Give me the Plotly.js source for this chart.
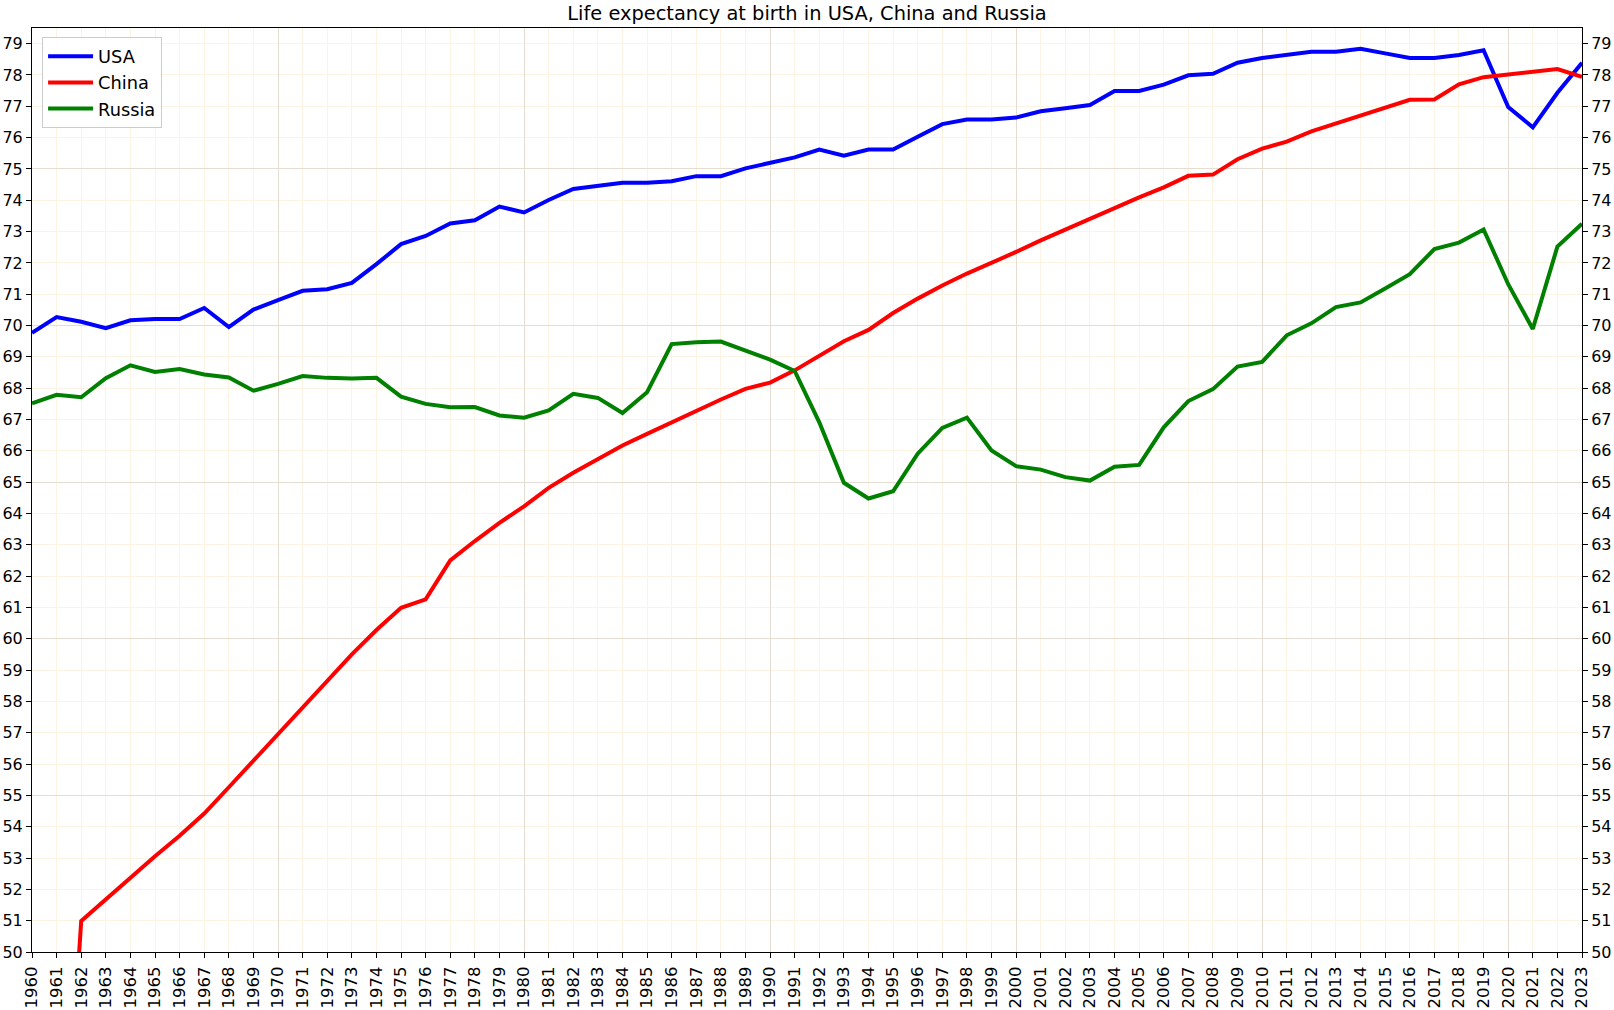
<!DOCTYPE html>
<html>
<head>
<meta charset="utf-8">
<script src="https://cdn.plot.ly/plotly-3.0.1.min.js"></script>
<style>
  body { margin: 0; background: #fff; }
  #chart { width: 1614px; height: 1010px; }
</style>
</head>
<body>
<div id="chart"></div>
<script>
    // values (years 1960..2023)
    const years = [
        1960, 1961, 1962, 1963, 1964, 1965, 1966, 1967, 1968, 1969,
        1970, 1971, 1972, 1973, 1974, 1975, 1976, 1977, 1978, 1979,
        1980, 1981, 1982, 1983, 1984, 1985, 1986, 1987, 1988, 1989,
        1990, 1991, 1992, 1993, 1994, 1995, 1996, 1997, 1998, 1999,
        2000, 2001, 2002, 2003, 2004, 2005, 2006, 2007, 2008, 2009,
        2010, 2011, 2012, 2013, 2014, 2015, 2016, 2017, 2018, 2019,
        2020, 2021, 2022, 2023
    ]
    const usa = [
        69.77, 70.27, 70.12, 69.92, 70.17, 70.21, 70.21, 70.56, 69.95, 70.51,
        70.81, 71.11, 71.16, 71.36, 71.96, 72.60, 72.86, 73.26, 73.36, 73.80,
        73.61, 74.01, 74.36, 74.46, 74.56, 74.56, 74.61, 74.77, 74.77, 75.02,
        75.21, 75.37, 75.62, 75.42, 75.62, 75.62, 76.03, 76.43, 76.58, 76.58,
        76.64, 76.84, 76.94, 77.04, 77.49, 77.49, 77.69, 77.99, 78.04, 78.39,
        78.54, 78.64, 78.74, 78.74, 78.84, 78.69, 78.54, 78.54, 78.64, 78.79,
        76.98, 76.33, 77.43, 78.39
    ]
    const china = [
        33.30, 39.00, 50.99, 51.69, 52.40, 53.06, 53.71, 54.42, 55.26, 56.11,
        56.96, 57.82, 58.63, 59.50, 60.28, 60.99, 61.26, 62.50, 63.12, 63.70,
        64.23, 64.82, 65.30, 65.74, 66.17, 66.54, 66.91, 67.28, 67.64, 67.98,
        68.18, 68.57, 69.02, 69.50, 69.86, 70.40, 70.86, 71.28, 71.66, 72.00,
        72.35, 72.72, 73.07, 73.40, 73.75, 74.09, 74.41, 74.78, 74.82, 75.31,
        75.65, 75.87, 76.20, 76.45, 76.71, 76.96, 77.21, 77.22, 77.70, 77.93,
        78.01, 78.12, 78.19, 77.94
    ]
    const russia = [
        67.52, 67.79, 67.71, 68.32, 68.73, 68.52, 68.61, 68.44, 68.34, 67.92,
        68.14, 68.39, 68.33, 68.31, 68.33, 67.73, 67.50, 67.39, 67.40, 67.13,
        67.06, 67.29, 67.82, 67.69, 67.21, 67.87, 69.41, 69.47, 69.49, 69.20,
        68.91, 68.55, 66.91, 64.98, 64.48, 64.71, 65.91, 66.73, 67.06, 66.01,
        65.51, 65.40, 65.16, 65.05, 65.49, 65.55, 66.75, 67.59, 67.97, 68.69,
        68.84, 69.69, 70.07, 70.59, 70.74, 71.18, 71.64, 72.44, 72.65, 73.07,
        71.32, 69.89, 72.52, 73.25
    ]
    const yTicks = [
        50, 51, 52, 53, 54, 55, 56, 57, 58, 59, 60, 61, 62, 63, 64,
        65, 66, 67, 68, 69, 70, 71, 72, 73, 74, 75, 76, 77, 78, 79
    ]
    const decadeTicks = [1960, 1970, 1980, 1990, 2000, 2010, 2020]
    const fiveTicks = [50, 55, 60, 65, 70, 75]

    const font = 'DejaVu Sans, sans-serif'
    const minorGrid = '#fdf3e2'
    const majorGrid = '#e5ddd2'
    const yRange = [50, 79.5]
    const xRange = [1960, 2023]

    const series = [
        {name: 'USA', values: usa, color: '#0000ff'},
        {name: 'China', values: china, color: '#ff0000'},
        {name: 'Russia', values: russia, color: '#008000'}
    ]

    let data = series.map((s, i) => ({
        x: years,
        y: s.values,
        name: s.name,
        type: 'scatter',
        mode: 'lines',
        legendgroup: 'g' + i,
        line: {color: s.color, width: 4},
        hoverinfo: 'skip'
    }))
    // empty traces so the overlay axes (major grid, right labels) get drawn
    data.push({x: [], y: [], xaxis: 'x2', yaxis: 'y3', showlegend: false, hoverinfo: 'skip'})
    data.push({x: [], y: [], xaxis: 'x', yaxis: 'y2', showlegend: false, hoverinfo: 'skip'})

    const layout = {
        width: 1614,
        height: 1010,
        margin: {l: 32, r: 32, t: 28, b: 58},
        paper_bgcolor: '#ffffff',
        plot_bgcolor: '#ffffff',
        font: {family: font, color: '#000000', size: 16},
        hovermode: false,
        title: {
            text: 'Life expectancy at birth in USA, China and Russia',
            font: {family: font, size: 19.4, color: '#000000'},
            x: 0.5, xref: 'paper', xanchor: 'center',
            y: 0.9867, yref: 'container', yanchor: 'middle'
        },
        showlegend: true,
        legend: {
            x: 0.0065, y: 0.99, xanchor: 'left', yanchor: 'top',
            bgcolor: 'rgba(255,255,255,0.85)',
            bordercolor: '#cccccc', borderwidth: 1,
            font: {family: font, size: 17.8, color: '#000000'},
            itemwidth: 45,
            tracegroupgap: 0
        },
        xaxis: {
            range: xRange,
            tickmode: 'array',
            tickvals: years,
            ticktext: years.map(String),
            tickangle: -90,
            ticks: 'outside', ticklen: 5, tickwidth: 1, tickcolor: '#000',
            ticklabelstandoff: 2,
            tickfont: {family: font, size: 16.5},
            showgrid: true, gridcolor: minorGrid, gridwidth: 1,
            showline: true, linecolor: '#000', linewidth: 1, mirror: true,
            zeroline: false, fixedrange: true
        },
        xaxis2: {
            overlaying: 'x', anchor: 'y3',
            range: xRange,
            tickmode: 'array', tickvals: decadeTicks,
            showticklabels: false, ticks: '',
            showgrid: true, gridcolor: majorGrid, gridwidth: 1,
            showline: false, zeroline: false, fixedrange: true
        },
        yaxis: {
            range: yRange,
            tickmode: 'array', tickvals: yTicks,
            ticks: 'outside', ticklen: 5, tickwidth: 1, tickcolor: '#000',
            tickfont: {family: font, size: 16},
            showgrid: true, gridcolor: minorGrid, gridwidth: 1,
            showline: true, linecolor: '#000', linewidth: 1, mirror: true,
            zeroline: false, fixedrange: true
        },
        yaxis2: {
            overlaying: 'y', side: 'right', anchor: 'x',
            range: yRange,
            tickmode: 'array', tickvals: yTicks,
            ticks: 'outside', ticklen: 5, tickwidth: 1, tickcolor: '#000',
            tickfont: {family: font, size: 16},
            showgrid: false, showline: false, zeroline: false, fixedrange: true
        },
        yaxis3: {
            overlaying: 'y', anchor: 'x2',
            range: yRange,
            tickmode: 'array', tickvals: fiveTicks,
            showticklabels: false, ticks: '',
            showgrid: true, gridcolor: majorGrid, gridwidth: 1,
            showline: false, zeroline: false, fixedrange: true
        }
    }

    Plotly.newPlot('chart', data, layout, {displayModeBar: false, staticPlot: true})
</script>
</body>
</html>
